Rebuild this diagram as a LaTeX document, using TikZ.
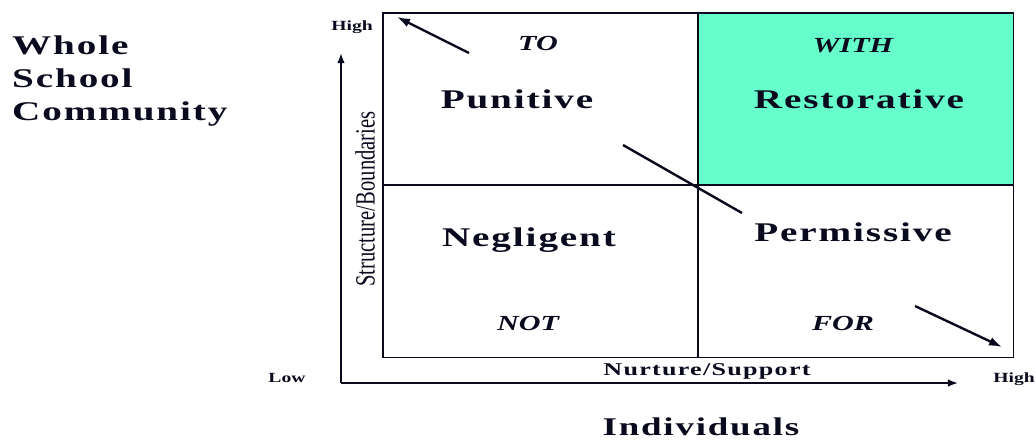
\documentclass[tikz,border=0pt]{standalone}
\usepackage{fontspec}
\usepackage{graphicx}
\setmainfont{Liberation Serif}[FakeStretch=1.4]
\newfontfamily\widefont{Liberation Serif}[FakeStretch=1.45, LetterSpace=7]
\newfontfamily\plainfont{Liberation Serif}
\usepackage{tikz}
\usetikzlibrary{arrows.meta, positioning}

\definecolor{restorecol}{RGB}{102,255,204}
\definecolor{inkcol}{RGB}{10,10,30}

\begin{document}
\begin{tikzpicture}[
  x=1pt, y=-1pt, >=Latex, color=inkcol,
  quad/.style    = {draw, rectangle, line width=1.4pt, inner sep=0pt,
                    minimum width=314.5pt, minimum height=171.5pt},
  bigword/.style = {inner sep=0pt, anchor=base,
                    font=\widefont\bfseries\fontsize{27}{30}\selectfont},
  tag/.style     = {inner sep=0pt, anchor=base,
                    font=\bfseries\itshape\fontsize{21.5}{26}\selectfont},
  level/.style   = {inner sep=0pt, anchor=base,
                    font=\bfseries\fontsize{14}{16}\selectfont},
  axis/.style    = {->, line width=1.6pt},
  trend/.style   = {line width=2.4pt},
]
  \useasboundingbox (0,0) rectangle (1036,440);

  % the four quadrants round the centre point
  \coordinate (mid) at (698,185);
  \node[quad, fill=restorecol, anchor=south west] (with) at (mid) {};
  \node[quad, anchor=south east]                  (to)   at (mid) {};
  \node[quad, anchor=north east]                  (not)  at (mid) {};
  \node[quad, anchor=north west]                  (for)  at (mid) {};

  % quadrant texts
  \node[tag]     (toname)   at (538,50)  {TO};
  \node[tag]     (withname) at (853,52)  {WITH};
  \node[tag]     (notname)  at (528,330) {NOT};
  \node[tag]     (forname)  at (843,330) {FOR};
  \node[bigword] (punit)    at (517,108) {Punitive};
  \node[bigword] (restor)   at (859,108) {Restorative};
  \node[bigword] (neglig)   at (529,246) {Negligent};
  \node[bigword] (permis)   at (853,241) {Permissive};

  % axes
  \coordinate (origin) at (341,383);
  \coordinate (ytop)   at (341,53);
  \coordinate (xend)   at (958,383);
  \draw[axis] (origin) -- (ytop);
  \draw[axis] (origin) -- (xend);

  \node[level] (hightop)   at (352,30)  {High};
  \node[level] (lowcorner) at (287,382) {Low};
  \node[level] (highright) at (1014,382) {High};

  \node[inner sep=0pt, rotate=90] (ylabel) at (365,199)
    {\scalebox{1}[1.35]{\plainfont\fontsize{20.6}{22}\selectfont Structure/Boundaries}};
  \node[inner sep=0pt, anchor=base,
        font=\widefont\bfseries\fontsize{18}{20}\selectfont] (xlabel) at (707,375)
    {Nurture/Support};

  % base of a three-line node sits on its last line
  \node[bigword, anchor=base west, align=left] (whole) at (12,120)
    {Whole\\[3pt]School\\[3pt]Community};
  \node[bigword, font=\widefont\bfseries\fontsize{25.5}{30}\selectfont]
    (indiv) at (701,435) {Individuals};

  % the diagonal trend
  \coordinate (tlstart) at (469,53);
  \coordinate (tlend)   at (397,17);
  \coordinate (mdstart) at (623,145);
  \coordinate (mdend)   at (742,213);
  \coordinate (brstart) at (915,306);
  \coordinate (brend)   at (1002,347);
  \draw[trend, -{Latex[length=13pt, width=9pt]}] (tlstart) -- (tlend);
  \draw[trend] (mdstart) -- (mdend);
  \draw[trend, -{Latex[length=13pt, width=9pt]}] (brstart) -- (brend);
\end{tikzpicture}
\end{document}
